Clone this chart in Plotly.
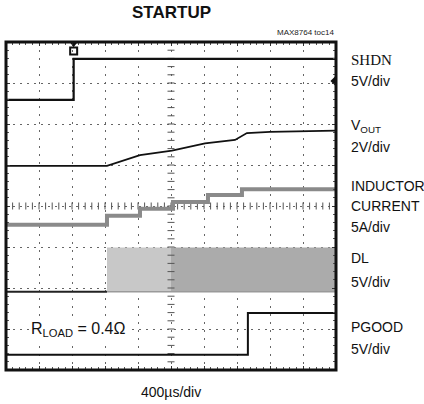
import plotly.graph_objects as go

# ---- data (x in time divisions, y in vertical divisions) ----
shdn_x = [0, 2.05, 2.05, 10]
shdn_y = [6.59, 6.59, 7.59, 7.59]

vout_x = [0, 3.06, 4.06, 5.03, 6.03, 6.94, 7.3, 8.0, 10]
vout_y = [4.98, 4.98, 5.24, 5.35, 5.53, 5.61, 5.78, 5.81, 5.84]

il_x = [0, 3.06, 3.06, 4.06, 4.06, 5.06, 5.06, 6.12, 6.12, 7.15, 7.15, 10]
il_y = [3.54, 3.54, 3.76, 3.76, 3.93, 3.93, 4.10, 4.10, 4.27, 4.27, 4.41, 4.41]

dl_low_x = [0, 3.06]
dl_low_y = [1.91, 1.91]
dl_band1_x = [3.06, 5.0]
dl_band2_x = [5.0, 10]
dl_lo = 1.91
dl_hi = 2.98

pg_x = [0, 7.33, 7.33, 10]
pg_y = [0.37, 0.37, 1.39, 1.39]

labels = [
    ("SHDN", 7.55, "mono"), ("5V/div", 7.05, "s"),
    ("V<sub>OUT</sub>", 5.95, "s"), ("2V/div", 5.45, "s"),
    ("INDUCTOR", 4.48, "s"), ("CURRENT", 3.99, "s"), ("5A/div", 3.5, "s"),
    ("DL", 2.72, "s"), ("5V/div", 2.14, "s"),
    ("PGOOD", 1.05, "s"), ("5V/div", 0.52, "s"),
]

SANS = "Liberation Sans, Arial, sans-serif"

fig = go.Figure()

# DL switching band
for xs, col in [(dl_band1_x, "#c8c8c8"), (dl_band2_x, "#ababab")]:
    fig.add_trace(go.Scatter(x=xs, y=[dl_lo, dl_lo], mode="lines",
                             line=dict(color=col, width=0), showlegend=False, hoverinfo="skip"))
    fig.add_trace(go.Scatter(x=xs, y=[dl_hi, dl_hi], mode="lines", fill="tonexty",
                             fillcolor=col, line=dict(color=col, width=0.5),
                             showlegend=False, hoverinfo="skip"))
fig.add_trace(go.Scatter(x=[3.06, 10], y=[dl_lo, dl_lo], mode="lines",
                         line=dict(color="#9a9a9a", width=1.5), showlegend=False))
fig.add_trace(go.Scatter(x=dl_low_x, y=dl_low_y, mode="lines",
                         line=dict(color="#222", width=2), showlegend=False))

# center crosshair ticks
cx = [i * 0.2 for i in range(51)]
cy = [i * 0.2 for i in range(41)]
fig.add_trace(go.Scatter(x=cx, y=[4] * len(cx), mode="markers",
                         marker=dict(symbol="line-ns", size=5, color="#555",
                                     line=dict(width=1, color="#555")),
                         showlegend=False, hoverinfo="skip"))
fig.add_trace(go.Scatter(x=[5] * len(cy), y=cy, mode="markers",
                         marker=dict(symbol="line-ew", size=5, color="#555",
                                     line=dict(width=1, color="#555")),
                         showlegend=False, hoverinfo="skip"))

# traces
fig.add_trace(go.Scatter(x=il_x, y=il_y, mode="lines",
                         line=dict(color="#8a8a8a", width=4), showlegend=False))
fig.add_trace(go.Scatter(x=shdn_x, y=shdn_y, mode="lines",
                         line=dict(color="#111", width=2.2), showlegend=False))
fig.add_trace(go.Scatter(x=vout_x, y=vout_y, mode="lines",
                         line=dict(color="#111", width=1.8), showlegend=False))
fig.add_trace(go.Scatter(x=pg_x, y=pg_y, mode="lines",
                         line=dict(color="#111", width=2), showlegend=False))

# trigger marker and channel marker
fig.add_trace(go.Scatter(x=[2.05], y=[7.78], mode="markers",
                         marker=dict(symbol="square-open", size=7, color="#111",
                                     line=dict(width=2, color="#111")),
                         showlegend=False))
fig.add_trace(go.Scatter(x=[2.05], y=[7.96], mode="markers",
                         marker=dict(symbol="triangle-down", size=7, color="#111"),
                         showlegend=False))
fig.add_trace(go.Scatter(x=[9.97], y=[7.05], mode="markers",
                         marker=dict(symbol="diamond", size=7, color="#111"),
                         showlegend=False))

axis_common = dict(showline=False, zeroline=False, showticklabels=False,
                   ticks="inside", ticklen=4, tickcolor="#333", tickwidth=1,
                   mirror="ticks", showgrid=True, gridcolor="#666666", gridwidth=1)
fig.update_xaxes(range=[0, 10], dtick=1, griddash="2px,6px",
                 minor=dict(dtick=0.2, ticks="inside", ticklen=3, tickcolor="#555", showgrid=False),
                 **axis_common)
fig.update_yaxes(range=[0, 8], dtick=1, griddash="2px,5px",
                 minor=dict(dtick=0.2, ticks="inside", ticklen=3, tickcolor="#555", showgrid=False),
                 **axis_common)

fig.add_shape(type="rect", xref="paper", yref="paper", x0=0, x1=1, y0=0, y1=1,
              line=dict(color="#111", width=3))

ann = []
for txt, y, kind in labels:
    fam = "Liberation Serif, DejaVu Serif, serif" if kind == "mono" else SANS
    size = 15 if kind == "mono" else 14
    ann.append(dict(x=1, xref="paper", xshift=13, y=y, yref="y", text=txt, showarrow=False,
                    xanchor="left", yanchor="middle", font=dict(family=fam, size=size, color="#111")))
ann.append(dict(x=0.5, xref="paper", y=1, yref="paper", yshift=30, text="<b>STARTUP</b>",
                showarrow=False, xanchor="center", yanchor="middle",
                font=dict(family=SANS, size=17, color="#111")))
ann.append(dict(x=1, xref="paper", y=1, yref="paper", yshift=10, text="MAX8764 toc14",
                showarrow=False, xanchor="right", yanchor="middle",
                font=dict(family=SANS, size=8, color="#222")))
ann.append(dict(x=0.5, xref="paper", y=0, yref="paper", yshift=-22, text="400µs/div",
                showarrow=False, xanchor="center", yanchor="middle",
                font=dict(family=SANS, size=14, color="#111")))
ann.append(dict(x=0.7, y=1.0, text="R<sub>LOAD</sub> = 0.4Ω", showarrow=False,
                xanchor="left", yanchor="middle", bgcolor="white",
                font=dict(family=SANS, size=16, color="#111")))

fig.update_layout(width=424, height=404, margin=dict(l=6, r=88, t=42, b=34),
                  plot_bgcolor="white", paper_bgcolor="white", annotations=ann,
                  showlegend=False)

fig.write_html("out.html", config={"displayModeBar": False},
               post_script="document.body.style.margin='0';")
